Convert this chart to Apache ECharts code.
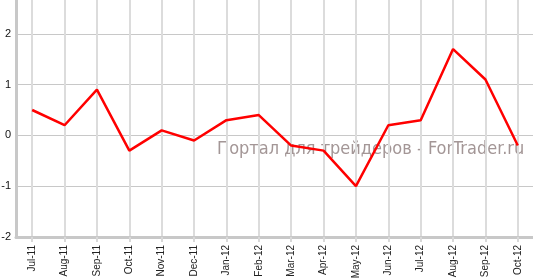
<!DOCTYPE html>
<html><head><meta charset="utf-8">
<script src="https://cdn.jsdelivr.net/npm/echarts@6/dist/echarts.min.js"></script>
<style>html,body{margin:0;padding:0;background:#fff}#c{width:533px;height:280px}</style>
</head><body><div id="c"></div>
<script>
var categories = ['Jul-11','Aug-11','Sep-11','Oct-11','Nov-11','Dec-11','Jan-12','Feb-12','Mar-12','Apr-12','May-12','Jun-12','Jul-12','Aug-12','Sep-12','Oct-12'];
var values = [0.5,0.2,0.9,-0.3,0.1,-0.1,0.3,0.4,-0.2,-0.3,-1.0,0.2,0.3,1.7,1.1,-0.2];
var watermark = 'Портал для трейдеров - ForTrader.ru';
var chart = echarts.init(document.getElementById('c'));
chart.setOption({
  animation:false,
  grid:{left:16,right:-1,top:-17,bottom:43,containLabel:false,outerBoundsMode:'none'},
  xAxis:{type:'category',data:categories,boundaryGap:true,
    axisLine:{onZero:false,lineStyle:{color:'#c8c8c8',width:3}},
    axisTick:{show:true,alignWithLabel:true,length:5,lineStyle:{color:'#d8d8d8',width:2}},
    splitLine:{show:true,alignWithLabel:true,lineStyle:{color:'#dcdcdc',width:2}},
    axisLabel:{rotate:90,interval:0,margin:8,color:'#222',fontFamily:'Liberation Sans',fontSize:10}},
  yAxis:{type:'value',min:-2,max:3,interval:1,
    axisLine:{show:true,lineStyle:{color:'#c8c8c8',width:3}},
    axisTick:{show:false},
    splitLine:{lineStyle:{color:'#c8c8c8',width:1}},
    axisLabel:{showMaxLabel:false,margin:5,color:'#111',fontFamily:'Liberation Sans',fontSize:11}},
  graphic:[{type:'text',left:217,top:140,z:0,zlevel:0,style:{text:watermark,fill:'#a39696',font:'18px "DejaVu Sans Condensed", "DejaVu Sans"'}}],
  series:[{type:'line',data:values,symbol:'none',lineStyle:{color:'#ff0000',width:2.5},z:5}]
});
</script></body></html>
